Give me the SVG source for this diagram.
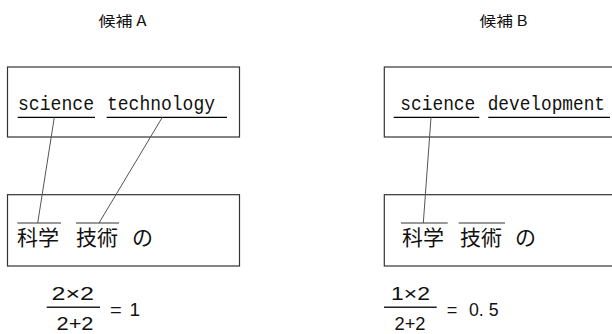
<svg xmlns="http://www.w3.org/2000/svg" width="612" height="334" viewBox="0 0 612 334">
<style>
.box{fill:#fff;stroke:#333;stroke-width:1.2}
.ul{stroke:#000;stroke-width:1.2}
.ol{stroke:#333;stroke-width:1}
.con{stroke:#555;stroke-width:1;fill:none}
.title{font-family:"Noto Sans CJK JP","Liberation Sans",sans-serif;font-size:14px;fill:#111}
.en{font-family:"Liberation Mono","DejaVu Sans Mono",monospace;font-size:20px;fill:#111}
.jp{font-family:"Noto Sans CJK JP",sans-serif;font-size:21px;fill:#111}
.num{font-family:"Liberation Sans","Noto Sans",sans-serif;font-size:19px;fill:#111}
.bar{stroke:#222;stroke-width:1.4}
</style>
<rect width="612" height="334" fill="#fff"/>
<g id="titleA"><text class="title" x="98.5" y="25.5" textLength="48" lengthAdjust="spacingAndGlyphs">候補 A</text></g>
<g id="titleB"><text class="title" x="479.5" y="25.5" textLength="48" lengthAdjust="spacingAndGlyphs">候補 B</text></g>

<g id="boxA-en">
<rect class="box" x="7.5" y="67" width="232" height="70"/>
<text class="en" x="18" y="110" textLength="76" lengthAdjust="spacingAndGlyphs">science</text>
<text class="en" x="107" y="110" textLength="108" lengthAdjust="spacingAndGlyphs">technology</text>
<line class="ul" x1="17.7" y1="117.3" x2="95" y2="117.3"/>
<line class="ul" x1="106.7" y1="117.3" x2="227" y2="117.3"/>
</g>
<g id="boxA-jp">
<rect class="box" x="7.5" y="194.7" width="232" height="71.3"/>
<line class="ol" x1="17.3" y1="223" x2="61" y2="223"/>
<line class="ol" x1="76" y1="223" x2="119" y2="223"/>
<text class="jp" x="17" y="245">科学</text>
<text class="jp" x="76" y="245">技術</text>
<text class="jp" x="132" y="245">の</text>
</g>
<g id="formulaA">
<text class="num" x="51.5" y="300" textLength="42.5" lengthAdjust="spacingAndGlyphs">2×2</text>
<line class="bar" x1="46.7" y1="307.3" x2="100" y2="307.3"/>
<text class="num" x="56.5" y="329.5" textLength="37" lengthAdjust="spacingAndGlyphs">2+2</text>
<text class="num" x="110" y="316" textLength="11.7" lengthAdjust="spacingAndGlyphs">=</text>
<text class="num" x="129.5" y="316">1</text>
</g>

<g id="boxB-en">
<rect class="box" x="384.3" y="67" width="240" height="70"/>
<text class="en" x="400.3" y="110" textLength="75" lengthAdjust="spacingAndGlyphs">science</text>
<text class="en" x="487.7" y="110" textLength="117.3" lengthAdjust="spacingAndGlyphs">development</text>
<line class="ul" x1="393.7" y1="117.3" x2="479.3" y2="117.3"/>
<line class="ul" x1="488.3" y1="117.3" x2="610" y2="117.3"/>
</g>
<g id="boxB-jp">
<rect class="box" x="384.3" y="194.7" width="240" height="71.3"/>
<line class="ol" x1="401" y1="223" x2="447.7" y2="223"/>
<line class="ol" x1="458.7" y1="223" x2="505" y2="223"/>
<text class="jp" x="402" y="245">科学</text>
<text class="jp" x="460" y="245">技術</text>
<text class="jp" x="515" y="245">の</text>
</g>
<g id="formulaB">
<text class="num" x="391" y="300" textLength="39" lengthAdjust="spacingAndGlyphs">1×2</text>
<line class="bar" x1="384" y1="307.3" x2="436.7" y2="307.3"/>
<text class="num" x="394.5" y="329.5" textLength="31" lengthAdjust="spacingAndGlyphs">2+2</text>
<text class="num" x="446.7" y="316" textLength="10.6" lengthAdjust="spacingAndGlyphs">=</text>
<text class="num" x="469" y="316" textLength="29.5" lengthAdjust="spacingAndGlyphs">0. 5</text>
</g>

<g id="connectors">
<line class="con" x1="54.3" y1="117.3" x2="37.7" y2="223"/>
<line class="con" x1="162.3" y1="117.3" x2="99" y2="223"/>
<line class="con" x1="431" y1="117.3" x2="423.3" y2="223"/>
</g>
</svg>
